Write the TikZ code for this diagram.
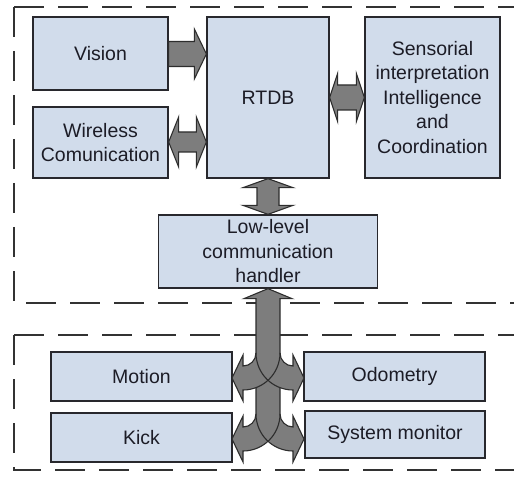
\documentclass[tikz,border=0pt]{standalone}
\usepackage{fontspec}
\setmainfont{Liberation Sans}
\usetikzlibrary{calc}
\definecolor{boxblue}{RGB}{209,220,235}
\definecolor{boxline}{RGB}{40,40,45}
\definecolor{arrowfill}{RGB}{125,125,125}
\definecolor{arrowline}{RGB}{45,45,45}
\definecolor{txt}{RGB}{28,28,38}
\definecolor{dashcol}{RGB}{50,50,50}
\tikzset{
  box/.style={draw=boxline, line width=1.3pt, fill=boxblue, inner sep=0pt, align=center,
    text=txt, font=\fontsize{19.5}{24.5}\selectfont},
  blockarrow/.style={fill=arrowfill, draw=arrowline, line width=1.1pt, line join=miter},
  arrowoutline/.style={draw=arrowline, line width=1.1pt, line join=miter},
  dashedframe/.style={draw=dashcol, line width=1.8pt, dash pattern=on 30pt off 14pt},
}
% single right-pointing block arrow: #1 left anchor, #2 right anchor, #3 centre Y, #4 body half, #5 head half, #6 head length
\newcommand\blockR[6]{%
  \path[blockarrow] let \p1=(#1), \p2=(#2) in
    ({\x1},{#3+#4}) -- ({\x2-#6},{#3+#4}) -- ({\x2-#6},{#3+#5}) -- ({\x2},{#3})
    -- ({\x2-#6},{#3-#5}) -- ({\x2-#6},{#3-#4}) -- ({\x1},{#3-#4}) -- cycle;}
% double horizontal block arrow
\newcommand\blockLR[6]{%
  \path[blockarrow] let \p1=(#1), \p2=(#2) in
    ({\x1},{#3}) -- ({\x1+#6},{#3+#5}) -- ({\x1+#6},{#3+#4}) -- ({\x2-#6},{#3+#4})
    -- ({\x2-#6},{#3+#5}) -- ({\x2},{#3}) -- ({\x2-#6},{#3-#5}) -- ({\x2-#6},{#3-#4})
    -- ({\x1+#6},{#3-#4}) -- ({\x1+#6},{#3-#5}) -- cycle;}
% double vertical block arrow: #1 top anchor, #2 bottom anchor, #3 body half, #4 head half, #5 head length
\newcommand\blockUD[5]{%
  \path[blockarrow] let \p1=(#1), \p2=(#2) in
    ({\x1},{\y1}) -- ({\x1+#4},{\y1-#5}) -- ({\x1+#3},{\y1-#5}) -- ({\x1+#3},{\y2+#5})
    -- ({\x1+#4},{\y2+#5}) -- ({\x1},{\y2}) -- ({\x1-#4},{\y2+#5}) -- ({\x1-#3},{\y2+#5})
    -- ({\x1-#3},{\y1-#5}) -- ({\x1-#4},{\y1-#5}) -- cycle;}
% pair of curved branches leaving the shaft at level #1 (Y0)
\newcommand\branches[1]{%
  \fill[arrowfill] (280,#1) arc[start angle=180, end angle=270, radius=13]
    -- (293,{#1-2}) -- (304,{#1-25}) -- (293,{#1-48}) -- (293,{#1-37})
    arc[start angle=270, end angle=180, radius=37] -- cycle;
  \fill[arrowfill] (256,#1) arc[start angle=0, end angle=-90, radius=13]
    -- (243,{#1-2}) -- (232,{#1-25}) -- (243,{#1-48}) -- (243,{#1-37})
    arc[start angle=-90, end angle=0, radius=37] -- cycle;
  \draw[arrowoutline] (280,#1) arc[start angle=180, end angle=270, radius=13]
    -- (293,{#1-2}) -- (304,{#1-25}) -- (293,{#1-48}) -- (293,{#1-37})
    arc[start angle=270, end angle=180, radius=37];
  \draw[arrowoutline] (256,#1) arc[start angle=0, end angle=-90, radius=13]
    -- (243,{#1-2}) -- (232,{#1-25}) -- (243,{#1-48}) -- (243,{#1-37})
    arc[start angle=-90, end angle=0, radius=37];}
\begin{document}
\begin{tikzpicture}[x=1pt,y=1pt]
\useasboundingbox (0,0) rectangle (514,480);
\clip (0,0) rectangle (514,480);

% dashed frames
\draw[dashedframe] (14,473) -- (540,473);
\draw[dashedframe] (14,473) -- (14,177) -- (540,177);
\draw[dashedframe] (14,145) -- (540,145);
\draw[dashedframe] (14,145) -- (14,10) -- (540,10);

% boxes
\node[box, minimum width=135pt, minimum height=73pt] (vision) at (100.5,426.5) {Vision};
\node[box, minimum width=135pt, minimum height=71pt] (wireless) at (100.5,337.5) {Wireless\\Comunication};
\node[box, minimum width=122pt, minimum height=161pt] (rtdb) at (268,382.5) {RTDB};
\node[box, minimum width=135pt, minimum height=161pt] (sens) at (432.5,382.5)
  {Sensorial\\interpretation\\Intelligence\\and\\Coordination};
\node[box, minimum width=219pt, minimum height=73pt] (low) at (268,228.5)
  {Low-level\\communication\\handler};
\node[box, minimum width=181pt, minimum height=49pt] (motion) at (141.5,103.5) {Motion};
\node[box, minimum width=181pt, minimum height=49pt] (kick) at (141.5,42.5) {Kick};
\node[box, minimum width=181pt, minimum height=49pt] (odo) at (394.5,103.5) {Odometry};
\node[box, minimum width=180pt, minimum height=47pt] (sysmon) at (395,45.5) {System monitor};

% upper block arrows
\blockR{vision.east}{rtdb.west}{426}{12.5}{25}{12}
\blockLR{wireless.east}{rtdb.west}{338}{10}{25}{10}
\blockLR{rtdb.east}{sens.west}{382.5}{12.5}{24}{8}
\blockUD{rtdb.south}{low.north}{11}{25}{9}

% lower branching arrow
\path[blockarrow] let \p1=(low.south) in
  (256,66) -- (256,{\y1-10}) -- (244,{\y1-10}) -- ({\x1},{\y1}) -- (292,{\y1-10})
  -- (280,{\y1-10}) -- (280,66);
\branches{127}
\branches{66}
\end{tikzpicture}
\end{document}
